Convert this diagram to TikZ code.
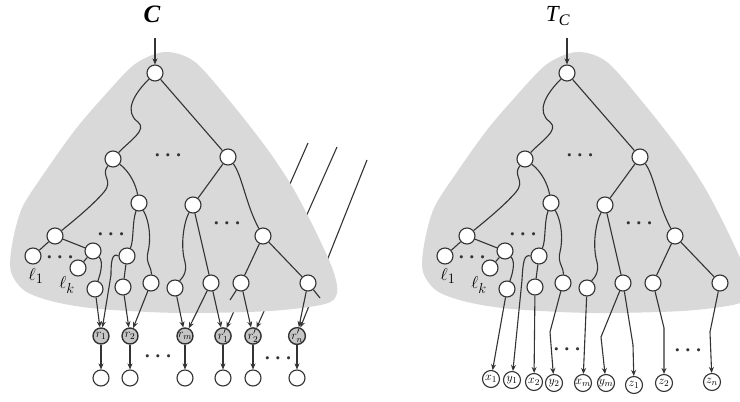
\documentclass[tikz,border=0pt]{standalone}
\usepackage{fontspec}
\setmainfont{Liberation Serif}
\usetikzlibrary{arrows.meta}
\definecolor{blob}{HTML}{D9D9D9}
\definecolor{ink}{HTML}{333333}

\begin{document}
\begin{tikzpicture}[x=1pt,y=-1pt,>={Stealth[length=6pt,width=5pt]}]
    \tikzstyle{every node}=[inner sep=0pt]
    \tikzstyle{vtx}=[circle,draw=ink,fill=white,line width=1.1pt,minimum size=16pt]
    \tikzstyle{reg}=[vtx,fill=gray!45,line width=1.4pt,font=\fontsize{13}{13}\selectfont]
    \tikzstyle{inp}=[vtx,minimum size=17pt,font=\fontsize{13}{13}\selectfont]
    \tikzstyle{wire}=[draw=ink,line width=1.1pt]
    \tikzstyle{dts}=[text=ink,font=\fontsize{20}{20}\selectfont\boldmath]
    \tikzstyle{lbl}=[font=\fontsize{19}{19}\selectfont]
    \useasboundingbox (0,0) rectangle (740,402);

    \node[font=\fontsize{25}{25}\selectfont\bfseries\itshape] (ctitle) at (152,14) {C};
    \node[font=\fontsize{23}{23}\selectfont\itshape] (ttitle) at (558,16) {T\textsubscript{C}};

    \node[reg] (r1) at (101,336) {$r_1$};
    \node[reg] (r2) at (130,336) {$r_2$};
    \node[reg] (rm) at (185,336) {$r_m$};
    \node[reg] (rp1) at (223,336) {$r'_1$};
    \node[reg] (rp2) at (253,336) {$r'_2$};
    \node[reg] (rpn) at (297,336) {$r'_n$};
    \coordinate (h1) at (308,143);
    \coordinate (h2) at (337,147);
    \coordinate (h3) at (367,160);
    \draw[wire,->] (h1) -- (rp1);
    \draw[wire,->] (h2) -- (rp2);
    \draw[wire,->] (h3) -- (rpn);

    \foreach \p/\dx in {L/0,R/412}{
    \begin{scope}[xshift=\dx]
        \fill[blob] plot[smooth cycle] coordinates {(165,52) (195,62) (233,105) (268,150) (293,188) (315,230) (333,270) (337,293) (325,304) (270,311) (180,313) (100,309) (55,302) (25,291) (11,272) (12,245) (22,208) (45,172) (75,130) (105,95) (135,64)};
        \coordinate (\p in) at (155,38);
        \node[vtx] (\p root) at (155,73) {};
        \node[vtx] (\p b1) at (113,159) {};
        \node[vtx] (\p b2) at (228,157) {};
        \node[vtx] (\p c1) at (55,236) {};
        \node[vtx] (\p c2) at (139,203) {};
        \node[vtx] (\p g) at (193,205) {};
        \node[vtx] (\p f) at (263,236) {};
        \node[vtx] (\p l1) at (33,256) {};
        \node[vtx] (\p d) at (93,251) {};
        \node[vtx] (\p lk) at (78,268) {};
        \node[vtx] (\p e) at (127,256) {};
        \node[vtx] (\p n1) at (95,289) {};
        \node[vtx] (\p n2) at (123,287) {};
        \node[vtx] (\p n3) at (151,283) {};
        \node[vtx] (\p n4) at (175,288) {};
        \node[vtx] (\p n5) at (211,283) {};
        \node[vtx] (\p n6) at (241,283) {};
        \node[vtx] (\p n7) at (308,283) {};
        \node[lbl] (\p l1lbl) at (36,276) {$\ell_1$};
        \node[lbl] (\p lklbl) at (67,285) {$\ell_k$};
        \node[dts] (\p dots1) at (168,156) {$\cdots$};
        \node[dts] (\p dots2) at (111,235) {$\cdots$};
        \node[dts] (\p dots3) at (60,258) {$\cdots$};
        \node[dts] (\p dots4) at (227,224) {$\cdots$};
        \draw[wire,->,line width=1.7pt] (\p in) -- (\p root);
        \draw[wire] (\p root) .. controls (133,95) and (124,112) .. (138,122) .. controls (148,130) and (128,142) .. (\p b1);
        \draw[wire] (\p root) -- (\p b2);
        \draw[wire] (\p b1) .. controls (100,176) and (114,180) .. (104,192) .. controls (92,206) and (72,222) .. (\p c1);
        \draw[wire] (\p b1) .. controls (130,172) and (136,185) .. (\p c2);
        \draw[wire] (\p b2) -- (\p g);
        \draw[wire] (\p b2) .. controls (242,175) and (246,205) .. (\p f);
        \draw[wire] (\p c1) -- (\p l1);
        \draw[wire] (\p c1) -- (\p d);
        \draw[wire] (\p d) -- (\p lk);
        \draw[wire] (\p d) .. controls (104,262) and (100,275) .. (\p n1);
        \draw[wire] (\p c2) .. controls (132,222) and (134,240) .. (\p e);
        \draw[wire] (\p c2) .. controls (150,222) and (151,240) .. (148,252) .. controls (145,262) and (152,268) .. (\p n3);
        \draw[wire] (\p e) -- (\p n2);
        \draw[wire] (\p g) .. controls (184,222) and (180,245) .. (185,262) .. controls (188,274) and (180,280) .. (\p n4);
        \draw[wire] (\p g) -- (\p n5);
        \draw[wire] (\p f) -- (\p n6);
        \draw[wire] (\p f) -- (\p n7);
    \end{scope}
    }

    \node[vtx] (o1) at (101,378) {};
    \node[vtx] (o2) at (130,378) {};
    \node[vtx] (om) at (185,378) {};
    \node[vtx] (op1) at (223,378) {};
    \node[vtx] (op2) at (253,378) {};
    \node[vtx] (opn) at (297,378) {};
    \coordinate (s1) at (230,300);
    \coordinate (s2) at (320,298);
    \draw[wire,->] (Ln1) -- (r1);
    \draw[wire,->] (Le.west) .. controls (112,252) and (111,262) .. (111,275) -- (r1);
    \draw[wire,->] (Ln2) -- (r2);
    \draw[wire,->] (Ln3) -- (r2);
    \draw[wire,->] (Ln4) -- (rm);
    \draw[wire,->] (Ln5) -- (rm);
    \draw[wire,->] (Ln5) -- (rp1);
    \draw[wire,->] (Ln6) -- (rp2);
    \draw[wire,->] (Ln7) -- (rpn);
    \draw[wire] (Ln6) -- (s1);
    \draw[wire] (Ln7) -- (s2);
    \foreach \a/\b in {r1/o1,r2/o2,rm/om,rp1/op1,rp2/op2,rpn/opn}
        \draw[wire,->,line width=1.5pt] (\a) -- (\b);
    \node[dts] (ldots1) at (158,357) {$\cdots$};
    \node[dts] (ldots2) at (278,359) {$\cdots$};

    \node[inp] (x1) at (491,379) {$x_1$};
    \node[inp] (y1) at (512,380) {$y_1$};
    \node[inp] (x2) at (534,382) {$x_2$};
    \node[inp] (y2) at (554,383) {$y_2$};
    \node[inp] (xm) at (583,383) {$x_m$};
    \node[inp] (ym) at (606,383) {$y_m$};
    \node[inp] (z1) at (634,385) {$z_1$};
    \node[inp] (z2) at (664,383) {$z_2$};
    \node[inp] (zn) at (712,382) {$z_n$};
    \draw[wire,->] (Rn1) -- (x1);
    \draw[wire,->] (Re.west) .. controls (524,254) and (523,262) .. (522,280) -- (y1);
    \draw[wire,->] (Rn2) -- (x2);
    \draw[wire,->] (Rn3) -- (550,332) -- (y2);
    \draw[wire,->] (Rn4) -- (xm);
    \draw[wire,->] (Rn5) -- (601,337) -- (ym);
    \draw[wire,->] (Rn5) -- (633,345) -- (z1);
    \draw[wire,->] (Rn6) -- (664,328) -- (z2);
    \draw[wire,->] (Rn7) -- (710,332) -- (zn);
    \node[dts] (rdots1) at (567,350) {$\cdots$};
    \node[dts] (rdots2) at (688,351) {$\cdots$};
\end{tikzpicture}
\end{document}
